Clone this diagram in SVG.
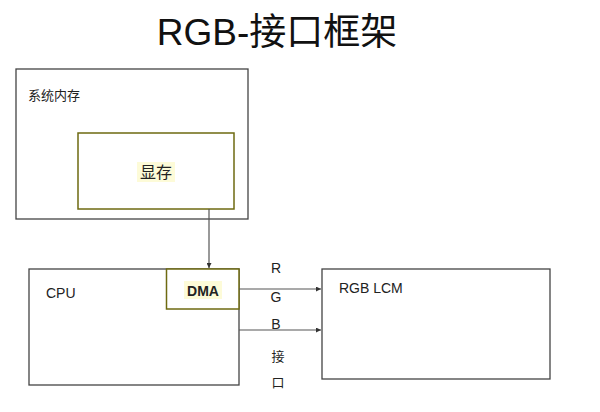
<svg xmlns="http://www.w3.org/2000/svg" width="600" height="412" viewBox="0 0 600 412">
<style>
.box{fill:#fff;stroke:#444;stroke-width:1.3}
.olive{fill:#fff;stroke:#6e6a10;stroke-width:1.5}
.hl{fill:#fdfbd8}
.t{font-family:"Liberation Sans","Noto Sans CJK SC",sans-serif;fill:#111}
.c{font-family:"Liberation Sans","Noto Sans CJK SC",sans-serif;fill:#222}
.ln{stroke:#555;stroke-width:1.2;fill:none}
</style>
<defs>
<marker id="ah" viewBox="0 0 6 6" refX="6" refY="3" markerWidth="5" markerHeight="5" orient="auto" markerUnits="userSpaceOnUse">
<path d="M0,0 L6,3 L0,6 z" fill="#333"/>
</marker>
</defs>
<rect width="600" height="412" fill="#fff"/>
<text class="t" x="277" y="45" font-size="37" text-anchor="middle">RGB-接口框架</text>
<g id="sysmem">
<rect class="box" x="16" y="69" width="232" height="150"/>
<text class="c" x="28" y="100" font-size="13">系统内存</text>
</g>
<g id="vram">
<rect class="olive" x="78" y="133" width="156" height="76"/>
<rect class="hl" x="137" y="162" width="38" height="20"/>
<text class="c" x="156" y="178" font-size="16" text-anchor="middle" fill="#3a3a10">显存</text>
</g>
<g id="cpu">
<rect class="box" x="29" y="269" width="210" height="116"/>
<text class="c" x="46" y="298" font-size="14">CPU</text>
</g>
<g id="dma">
<rect class="olive" x="166.5" y="269" width="72.5" height="40"/>
<rect class="hl" x="184" y="281" width="38" height="18"/>
<text class="c" x="203" y="296" font-size="14" font-weight="bold" text-anchor="middle" fill="#2a2a10">DMA</text>
</g>
<g id="lcm">
<rect class="box" x="322" y="269" width="228" height="110"/>
<text class="c" x="339" y="293" font-size="14">RGB LCM</text>
</g>
<g id="connectors">
<line class="ln" x1="209" y1="209" x2="209" y2="268" marker-end="url(#ah)"/>
<line class="ln" x1="239" y1="289" x2="321" y2="289" marker-end="url(#ah)"/>
<line class="ln" x1="239" y1="330" x2="321" y2="330" marker-end="url(#ah)"/>
</g>
<g id="labels" class="c" font-size="14" text-anchor="middle">
<text x="276" y="273">R</text>
<text x="276" y="302">G</text>
<text x="276" y="329">B</text>
<text x="278" y="361" font-size="13">接</text>
<text x="278" y="387" font-size="13">口</text>
</g>
</svg>
